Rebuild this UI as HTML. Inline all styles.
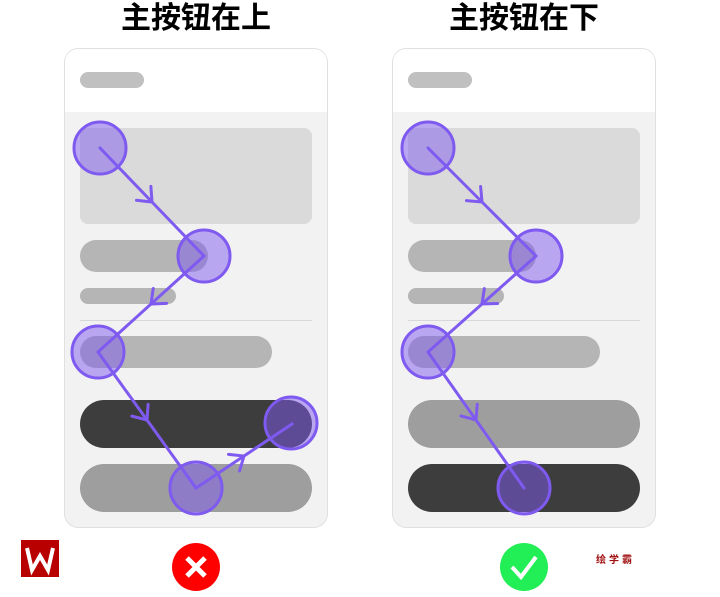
<!DOCTYPE html>
<html><head><meta charset="utf-8"><style>
body{margin:0;background:#fff;width:720px;height:592px;overflow:hidden;font-family:"Liberation Sans","Noto Sans CJK SC",sans-serif}
</style></head><body>
<svg width="720" height="592" xmlns="http://www.w3.org/2000/svg">
<defs>
<marker id="ch" markerUnits="userSpaceOnUse" markerWidth="30" markerHeight="30" refX="0" refY="0" viewBox="-15 -15 30 30" orient="auto">
<path d="M-12,-10 L0,0 L-12,10" fill="none" stroke="#7f5af0" stroke-width="3" stroke-linecap="round"/>
</marker>
</defs>
<g font-family="Liberation Sans, Noto Sans CJK SC, sans-serif" font-weight="bold" font-size="30" text-anchor="middle" fill="#000">
<text x="196" y="28">主按钮在上</text>
<text x="524" y="28">主按钮在下</text>
</g>
<g>
<rect x="64.5" y="48.5" width="263" height="479" rx="14" fill="#f2f2f2" stroke="#e0e0e0"/>
<path d="M65,112 V62 a13,13 0 0 1 13,-13 H314 a13,13 0 0 1 13,13 V112 Z" fill="#fff"/>
<rect x="80" y="72" width="64" height="16" rx="8" fill="#c0c0c0"/>
<rect x="80" y="128" width="232" height="96" rx="8" fill="#dadada"/>
<rect x="80" y="240" width="128" height="32" rx="16" fill="#b5b5b5"/>
<rect x="80" y="288" width="96" height="16" rx="8" fill="#b5b5b5"/>
<rect x="80" y="320" width="232" height="1" fill="#d8d8d8"/>
<rect x="80" y="336" width="192" height="32" rx="16" fill="#b5b5b5"/>
<rect x="80" y="400" width="232" height="48" rx="24" fill="#3d3d3d"/>
<rect x="80" y="464" width="232" height="48" rx="24" fill="#9e9e9e"/>
</g>
<g fill="rgba(127,90,240,0.5)" stroke="#7f5af0" stroke-width="3">
<circle cx="100" cy="148" r="26"/><circle cx="204" cy="256" r="26"/><circle cx="98" cy="352" r="26"/><circle cx="196" cy="488" r="26"/><circle cx="291" cy="423" r="26"/>
</g>
<g fill="none" stroke="#7f5af0" stroke-width="3" stroke-linecap="round" marker-mid="url(#ch)">
<polyline points="100,148 152,202 204,256"/>
<polyline points="204,256 151,304 98,352"/>
<polyline points="98,352 147,420 196,488"/>
<polyline points="196,488 244,456 292,424"/>
</g>
<g>
<rect x="392.5" y="48.5" width="263" height="479" rx="14" fill="#f2f2f2" stroke="#e0e0e0"/>
<path d="M393,112 V62 a13,13 0 0 1 13,-13 H642 a13,13 0 0 1 13,13 V112 Z" fill="#fff"/>
<rect x="408" y="72" width="64" height="16" rx="8" fill="#c0c0c0"/>
<rect x="408" y="128" width="232" height="96" rx="8" fill="#dadada"/>
<rect x="408" y="240" width="128" height="32" rx="16" fill="#b5b5b5"/>
<rect x="408" y="288" width="96" height="16" rx="8" fill="#b5b5b5"/>
<rect x="408" y="320" width="232" height="1" fill="#d8d8d8"/>
<rect x="408" y="336" width="192" height="32" rx="16" fill="#b5b5b5"/>
<rect x="408" y="400" width="232" height="48" rx="24" fill="#9e9e9e"/>
<rect x="408" y="464" width="232" height="48" rx="24" fill="#3d3d3d"/>
</g>
<g fill="rgba(127,90,240,0.5)" stroke="#7f5af0" stroke-width="3">
<circle cx="428" cy="148" r="26"/><circle cx="536" cy="256" r="26"/><circle cx="428" cy="352" r="26"/><circle cx="524" cy="488" r="26"/>
</g>
<g fill="none" stroke="#7f5af0" stroke-width="3" stroke-linecap="round" marker-mid="url(#ch)">
<polyline points="428,148 482,202 536,256"/>
<polyline points="536,256 482,304 428,352"/>
<polyline points="428,352 476,420 524,488"/>
</g>
<rect x="21" y="540" width="38" height="37" fill="#b80000"/>
<path d="M27,548 L32,570 L40,556 L48,570 L53,548" fill="none" stroke="#fff" stroke-width="4"/>
<circle cx="196" cy="567" r="24" fill="#f00"/>
<path d="M187,558 L205,576 M205,558 L187,576" stroke="#fff" stroke-width="5"/>
<circle cx="524" cy="567" r="24" fill="#22ee55"/>
<path d="M512,567 L521,577 L536,557" fill="none" stroke="#fff" stroke-width="4"/>
<text x="596" y="563" font-size="10" font-weight="bold" fill="#a01010" font-family="Noto Sans CJK SC, sans-serif" letter-spacing="3">绘学霸</text>
</svg>
</body></html>
